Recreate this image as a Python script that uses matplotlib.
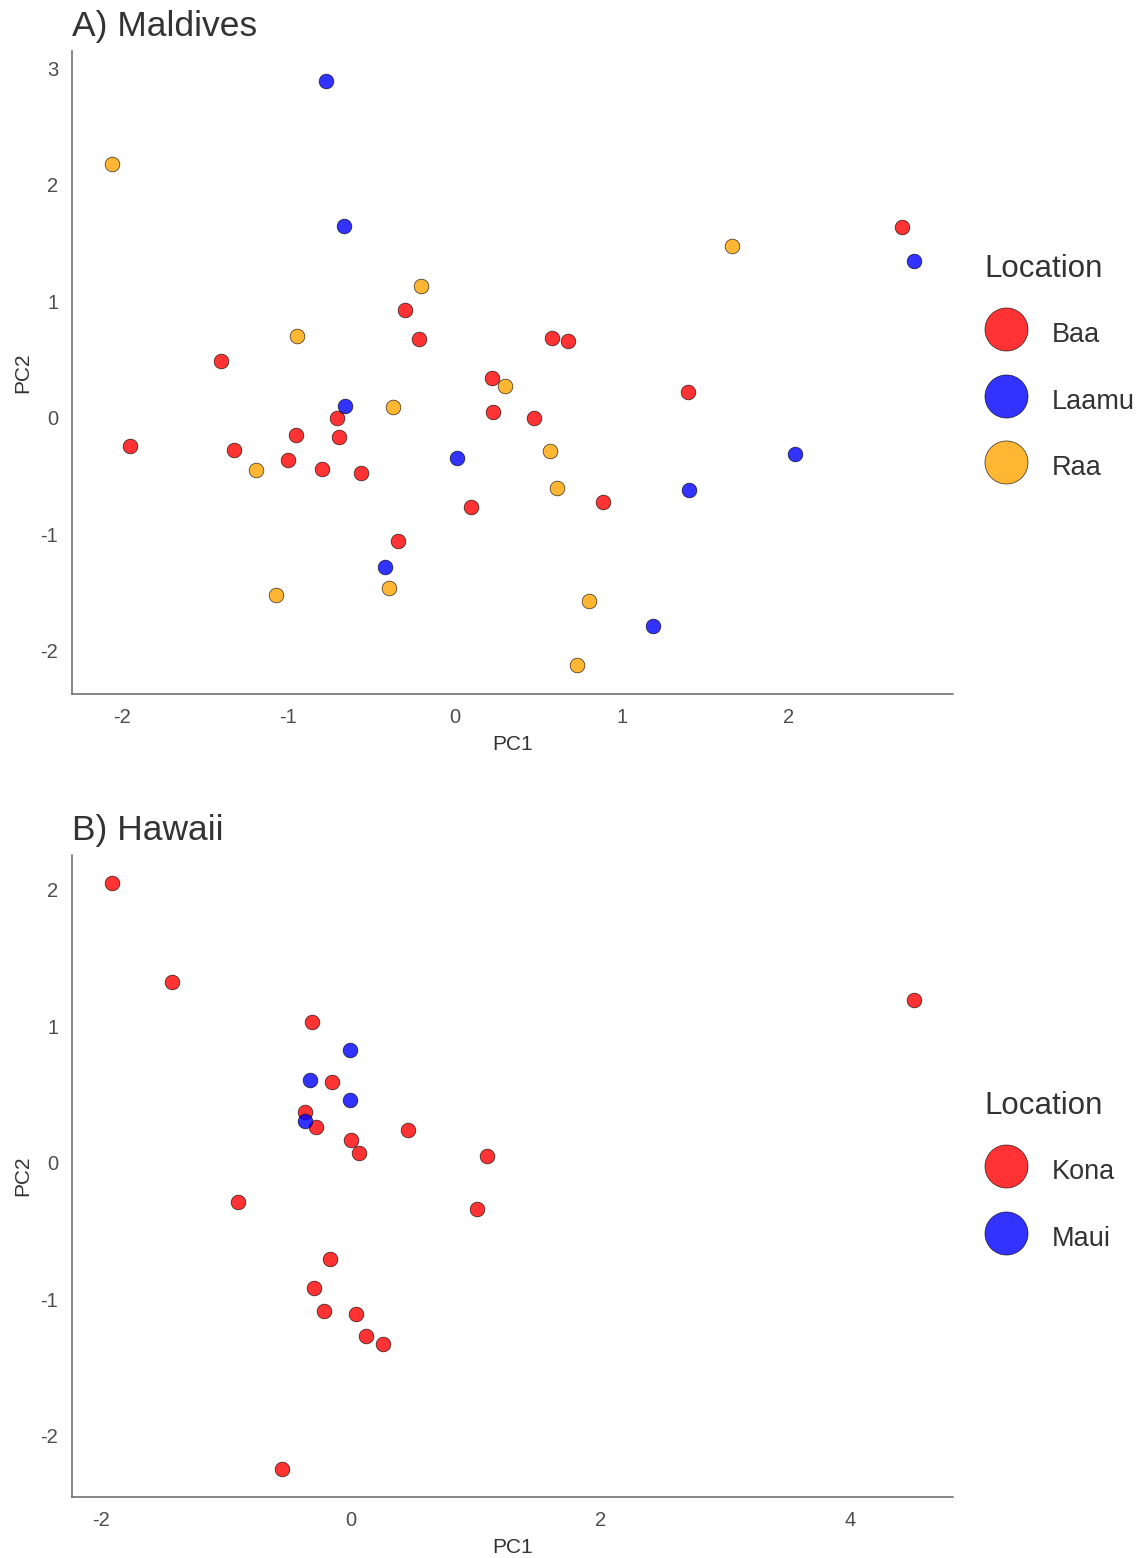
import matplotlib
matplotlib.use("Agg")
import matplotlib.pyplot as plt
from matplotlib.lines import Line2D

plt.rcParams['font.family'] = ['Liberation Sans', 'DejaVu Sans']

# ---- Maldives PCA scores ----
baa_pc1 = [2.681, -0.300, -0.216, 0.584, 0.676, -1.402, 0.224, 1.400, 0.230, 0.472,
           -0.710, -0.956, -0.696, -1.950, -1.324, -1.004, -0.800, -0.564, 0.098, 0.888, -0.342]
baa_pc2 = [1.639, 0.930, 0.678, 0.689, 0.664, 0.492, 0.346, 0.223, 0.052, 0.000,
           0.000, -0.146, -0.163, -0.240, -0.275, -0.363, -0.440, -0.472, -0.767, -0.724, -1.058]
laamu_pc1 = [-0.774, -0.666, 2.753, -0.660, 0.012, 2.040, 1.404, -0.420, 1.188]
laamu_pc2 = [2.893, 1.648, 1.348, 0.103, -0.343, -0.309, -0.618, -1.279, -1.785]
raa_pc1 = [-2.058, 1.662, -0.202, -0.950, 0.302, -0.372, -1.192, 0.568, 0.610,
           -1.072, -0.396, 0.802, 0.730]
raa_pc2 = [2.180, 1.476, 1.136, 0.706, 0.275, 0.094, -0.449, -0.286, -0.604,
           -1.517, -1.456, -1.568, -2.120]

# ---- Hawaii PCA scores ----
kona_pc1 = [-1.908, -1.428, 4.508, -0.310, -0.150, -0.366, -0.276, 0.004, 0.068, 0.460,
            1.094, -0.898, 1.014, -0.166, -0.294, -0.212, 0.044, 0.124, 0.260, -0.548]
kona_pc2 = [2.048, 1.322, 1.190, 1.027, 0.588, 0.370, 0.258, 0.167, 0.072, 0.236,
            0.050, -0.289, -0.341, -0.707, -0.922, -1.090, -1.112, -1.273, -1.332, -2.242]
maui_pc1 = [-0.004, -0.326, -0.004, -0.366]
maui_pc2 = [0.822, 0.602, 0.456, 0.304]

maldives_ticks_x = [-2, -1, 0, 1, 2]
maldives_ticks_y = [-2, -1, 0, 1, 2, 3]
hawaii_ticks_x = [-2, 0, 2, 4]
hawaii_ticks_y = [-2, -1, 0, 1, 2]

RED, BLUE, ORANGE = '#FF0000', '#0000FF', '#FFA500'
ALPHA = 0.8
TEXT = '#333333'
TICK = '#4D4D4D'
AXIS = '#666666'

fig = plt.figure(figsize=(11.4, 15.58), dpi=100)
ax_a = fig.add_axes([0.0632, 0.5546, 0.7728, 0.4127])
ax_b = fig.add_axes([0.0632, 0.0392, 0.7728, 0.4120])


def style(ax, title, xt, yt, xlim, ylim):
    ax.set_xlim(*xlim)
    ax.set_ylim(*ylim)
    ax.set_xticks(xt)
    ax.set_yticks(yt)
    ax.set_xticklabels([str(v) for v in xt])
    ax.set_yticklabels([str(v) for v in yt])
    for s in ('top', 'right'):
        ax.spines[s].set_visible(False)
    for s in ('left', 'bottom'):
        ax.spines[s].set_color(AXIS)
        ax.spines[s].set_linewidth(1.1)
    ax.tick_params(length=0, labelsize=14.5, labelcolor=TICK, pad=10)
    ax.set_xlabel('PC1', fontsize=15, color=TEXT, labelpad=6)
    ax.set_ylabel('PC2', fontsize=15, color=TEXT, labelpad=6)
    ax.set_title(title, loc='left', fontsize=25.5, color=TEXT, pad=10.5)


def pts(ax, x, y, c):
    ax.scatter(x, y, s=112, c=c, alpha=ALPHA, edgecolors='black',
               linewidths=0.5, zorder=3)


def add_legend(ax, names, colors):
    handles = [Line2D([], [], linestyle='none', marker='o', markersize=31,
                      markerfacecolor=c, markeredgecolor='black',
                      markeredgewidth=0.5, alpha=ALPHA) for c in colors]
    leg = ax.legend(handles, names, title='Location', loc='center left',
                    bbox_to_anchor=(1.023, 0.505), frameon=False, fontsize=19.5,
                    title_fontsize=22.5, handleheight=1.6, handlelength=1.6,
                    handletextpad=0.9, labelspacing=1.17, borderaxespad=0)
    leg._legend_box.align = 'left'
    for t in leg.get_texts():
        t.set_color(TEXT)
    leg.get_title().set_color(TEXT)
    return leg


pts(ax_a, baa_pc1, baa_pc2, RED)
pts(ax_a, laamu_pc1, laamu_pc2, BLUE)
pts(ax_a, raa_pc1, raa_pc2, ORANGE)
style(ax_a, 'A) Maldives', maldives_ticks_x, maldives_ticks_y, (-2.2975, 2.987), (-2.369, 3.150))
add_legend(ax_a, ['Baa', 'Laamu', 'Raa'], [RED, BLUE, ORANGE])

pts(ax_b, kona_pc1, kona_pc2, RED)
pts(ax_b, maui_pc1, maui_pc2, BLUE)
style(ax_b, 'B) Hawaii', hawaii_ticks_x, hawaii_ticks_y, (-2.228, 4.820), (-2.450, 2.253))
add_legend(ax_b, ['Kona', 'Maui'], [RED, BLUE])

fig.savefig('out.png', dpi=100, facecolor='white')
